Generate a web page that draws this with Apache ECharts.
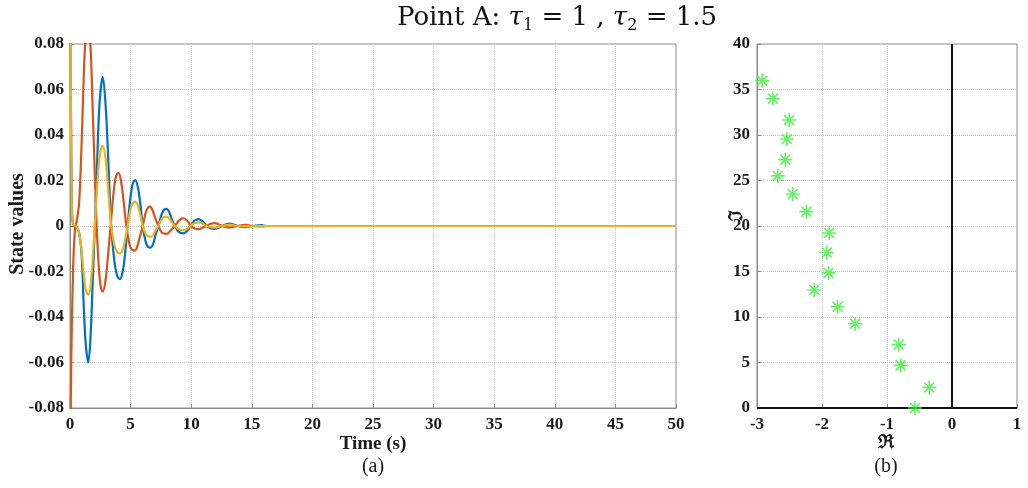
<!DOCTYPE html>
<html>
<head>
<meta charset="utf-8">
<script src="https://cdn.jsdelivr.net/npm/echarts@6/dist/echarts.min.js"></script>
<style>
  html, body { margin: 0; padding: 0; background: #ffffff; }
  #chart { width: 1028px; height: 488px; }
</style>
</head>
<body>
<div id="chart"></div>
<script>
// Time responses of the three states, [time (s), value]
const stateBlue = [
  [0, 0.10], [0.08, 0.05], [0.15, 0.01], [0.25, 0.001], [0.5, 0], [0.75, -0.003],
  [0.95, -0.012], [1.15, -0.037], [1.3, -0.052], [1.51, -0.060], [1.7, -0.048],
  [1.87, -0.025], [2.05, 0], [2.25, 0.03], [2.45, 0.055], [2.7, 0.0656], [2.95, 0.052],
  [3.15, 0.03], [3.4, 0], [3.65, -0.015], [3.9, -0.022], [4.12, -0.0234], [4.35, -0.02],
  [4.55, -0.012], [4.75, 0], [5.0, 0.013], [5.2, 0.019], [5.39, 0.0202], [5.6, 0.017],
  [5.8, 0.01], [6.0, 0], [6.25, -0.007], [6.45, -0.0092], [6.65, -0.0095], [6.85, -0.008],
  [7.05, -0.004], [7.3, 0], [7.55, 0.005], [7.8, 0.0073], [7.98, 0.0075], [8.2, 0.006],
  [8.4, 0.003], [8.65, 0], [8.95, -0.0025], [9.35, -0.0032], [9.7, -0.002], [9.95, 0],
  [10.25, 0.0022], [10.6, 0.003], [10.95, 0.002], [11.25, 0], [11.6, -0.001],
  [11.9, -0.0013], [12.25, -0.0008], [12.55, 0], [12.9, 0.0008], [13.2, 0.0011],
  [13.5, 0.0006], [13.85, 0], [14.2, -0.0004], [14.5, -0.0005], [14.8, -0.0002],
  [15.15, 0], [15.5, 0.0003], [15.8, 0.0004], [16.1, 0.0001], [16.5, 0], [20, 0], [50, 0]
];
const stateOrange = [
  [0, -0.12], [0.1, -0.06], [0.25, -0.02], [0.4, -0.002], [0.55, 0.002], [0.75, 0.01],
  [0.95, 0.035], [1.1, 0.06], [1.25, 0.08], [1.49, 0.09], [1.7, 0.078], [1.85, 0.055],
  [2.0, 0.03], [2.2, 0], [2.4, -0.02], [2.55, -0.027], [2.7, -0.0289], [2.9, -0.025],
  [3.1, -0.015], [3.35, 0], [3.6, 0.015], [3.8, 0.022], [4.0, 0.0234], [4.2, 0.02],
  [4.4, 0.012], [4.65, 0], [4.95, -0.009], [5.15, -0.0105], [5.36, -0.0108], [5.55, -0.009],
  [5.75, -0.005], [6.0, 0], [6.25, 0.006], [6.45, 0.0082], [6.6, 0.0085], [6.8, 0.007],
  [7.0, 0.004], [7.3, 0], [7.6, -0.003], [7.98, -0.0035], [8.3, -0.002], [8.65, 0],
  [9.0, 0.0025], [9.35, 0.0034], [9.7, 0.0022], [9.95, 0], [10.3, -0.0011], [10.6, -0.0014],
  [10.95, -0.0008], [11.25, 0], [11.6, 0.001], [11.95, 0.0013], [12.25, 0.0008], [12.55, 0],
  [12.9, -0.0005], [13.25, -0.0006], [13.55, -0.0003], [13.85, 0], [14.25, 0.0004],
  [14.55, 0.0005], [14.85, 0.0002], [15.2, 0], [15.5, -0.0002], [15.9, -0.0002], [16.3, 0],
  [20, 0], [50, 0]
];
const stateYellow = [
  [0, 0.12], [0.08, 0.05], [0.15, 0.01], [0.25, 0.001], [0.5, 0], [0.7, -0.002],
  [0.9, -0.008], [1.1, -0.019], [1.3, -0.028], [1.51, -0.0303], [1.7, -0.026], [1.9, -0.012],
  [2.05, 0], [2.25, 0.018], [2.45, 0.031], [2.7, 0.0352], [2.95, 0.029], [3.15, 0.016],
  [3.4, 0], [3.65, -0.008], [3.9, -0.0115], [4.12, -0.012], [4.35, -0.0105], [4.55, -0.006],
  [4.75, 0], [5.0, 0.0075], [5.2, 0.0102], [5.39, 0.0107], [5.6, 0.009], [5.8, 0.005],
  [6.0, 0], [6.25, -0.0035], [6.45, -0.0045], [6.65, -0.0047], [6.85, -0.004], [7.05, -0.002],
  [7.3, 0], [7.55, 0.0028], [7.8, 0.004], [7.98, 0.0041], [8.2, 0.0033], [8.4, 0.0017],
  [8.65, 0], [8.95, -0.0013], [9.35, -0.0018], [9.7, -0.0011], [9.95, 0], [10.25, 0.0012],
  [10.6, 0.0016], [10.95, 0.001], [11.25, 0], [11.6, -0.0005], [11.9, -0.0007],
  [12.25, -0.0004], [12.55, 0], [12.9, 0.0004], [13.2, 0.0006], [13.5, 0.0003], [13.85, 0],
  [14.5, -0.0002], [15.15, 0], [20, 0], [50, 0]
];

// Characteristic roots: real and imaginary parts
const rootsRe = [-2.92, -2.755, -2.505, -2.54, -2.566, -2.68, -2.45, -2.24, -1.89, -1.926,
  -1.90, -2.12, -1.76, -1.49, -0.82, -0.79, -0.35, -0.57];
const rootsIm = [35.97, 34.0, 31.65, 29.56, 27.29, 25.5, 23.52, 21.57, 19.23, 17.07,
  14.84, 12.97, 11.13, 9.26, 6.96, 4.68, 2.26, 0.0];

const SERIF = "'Liberation Serif', 'Times New Roman', serif";
const MATH_SERIF = "'DejaVu Serif', 'Liberation Serif', serif";
const FRAME = '#8a8a8a';
const GRID_LINE = '#c4c4c4';
const LABEL = '#1a1a1a';

// eight-armed asterisk marker
const ASTERISK = 'path://M8.8 0L11.2 0L11.2 20L8.8 20Z M0 8.8L20 8.8L20 11.2L0 11.2Z ' +
  'M3.78 2.08L17.92 16.22L16.22 17.92L2.08 3.78Z M16.22 2.08L17.92 3.78L3.78 17.92L2.08 16.22Z';

const rootPoints = rootsRe.map((re, i) => [re, rootsIm[i]]);

function tickFmt(v) {
  return Math.abs(v) < 1e-9 ? '0' : v.toFixed(2);
}

const axisCommon = {
  axisLine: { show: true, onZero: false, lineStyle: { color: FRAME, width: 1 } },
  axisTick: { show: true, inside: true, length: 4, lineStyle: { color: FRAME } },
  splitLine: { show: true, lineStyle: { color: GRID_LINE, type: 'dotted', width: 1 } },
  axisLabel: { color: LABEL, fontFamily: SERIF, fontWeight: 'bold', fontSize: 17 }
};

const chart = echarts.init(document.getElementById('chart'), null, { renderer: 'canvas' });

chart.setOption({
  animation: false,
  backgroundColor: '#ffffff',
  grid: [
    { left: 70, top: 44, width: 606, height: 364, show: true, borderColor: FRAME, borderWidth: 1, backgroundColor: 'transparent' },
    { left: 757, top: 44, width: 260, height: 364, show: true, borderColor: FRAME, borderWidth: 1, backgroundColor: 'transparent' }
  ],
  xAxis: [
    Object.assign({}, axisCommon, {
      gridIndex: 0, type: 'value', min: 0, max: 50, interval: 5,
      axisLabel: Object.assign({}, axisCommon.axisLabel, { margin: 8 })
    }),
    Object.assign({}, axisCommon, {
      gridIndex: 1, type: 'value', min: -3, max: 1, interval: 1,
      axisLabel: Object.assign({}, axisCommon.axisLabel, { margin: 8 })
    })
  ],
  yAxis: [
    Object.assign({}, axisCommon, {
      gridIndex: 0, type: 'value', min: -0.08, max: 0.08, interval: 0.02,
      axisLabel: Object.assign({}, axisCommon.axisLabel, { margin: 6, formatter: tickFmt })
    }),
    Object.assign({}, axisCommon, {
      gridIndex: 1, type: 'value', min: 0, max: 40, interval: 5,
      axisLabel: Object.assign({}, axisCommon.axisLabel, { margin: 7 })
    })
  ],
  series: [
    {
      name: 'x1', type: 'line', xAxisIndex: 0, yAxisIndex: 0, data: stateBlue,
      showSymbol: false, smooth: 0.35, clip: true,
      lineStyle: { color: '#0072BD', width: 2.2 }, itemStyle: { color: '#0072BD' }
    },
    {
      name: 'x2', type: 'line', xAxisIndex: 0, yAxisIndex: 0, data: stateOrange,
      showSymbol: false, smooth: 0.35, clip: true,
      lineStyle: { color: '#D95319', width: 2.2 }, itemStyle: { color: '#D95319' }
    },
    {
      name: 'x3', type: 'line', xAxisIndex: 0, yAxisIndex: 0, data: stateYellow,
      showSymbol: false, smooth: 0.35, clip: true,
      lineStyle: { color: '#EDB120', width: 2.2 }, itemStyle: { color: '#EDB120' }
    },
    {
      name: 'roots', type: 'scatter', xAxisIndex: 1, yAxisIndex: 1, data: rootPoints,
      symbol: ASTERISK, symbolSize: 14, z: 5,
      itemStyle: { color: '#3ff03f' },
      markLine: {
        silent: true, symbol: 'none', label: { show: false },
        lineStyle: { color: '#111111', width: 2, type: 'solid' },
        data: [{ xAxis: 0 }, { yAxis: 0 }]
      }
    }
  ],
  graphic: [
    {
      type: 'text', x: 557, y: 18,
      style: {
        text: '{n|Point A: }{i|τ}{s|1}{n| = 1 , }{i|τ}{s|2}{n| = 1.5}',
        align: 'center', verticalAlign: 'middle', fill: '#111',
        rich: {
          n: { fontFamily: MATH_SERIF, fontSize: 26, lineHeight: 32, fill: '#111' },
          i: { fontFamily: MATH_SERIF, fontSize: 26, fontStyle: 'italic', lineHeight: 32, fill: '#111' },
          s: { fontFamily: MATH_SERIF, fontSize: 16, lineHeight: 28, verticalAlign: 'bottom', fill: '#111' }
        }
      }
    },
    {
      type: 'text', x: 18, y: 224, rotation: Math.PI / 2,
      style: { text: 'State values', fontFamily: SERIF, fontWeight: 'bold', fontSize: 20, fill: LABEL, align: 'center', verticalAlign: 'middle' }
    },
    {
      type: 'text', x: 373, y: 444,
      style: { text: 'Time (s)', fontFamily: SERIF, fontWeight: 'bold', fontSize: 19, fill: LABEL, align: 'center', verticalAlign: 'middle' }
    },
    {
      type: 'text', x: 373, y: 467,
      style: { text: '(a)', fontFamily: SERIF, fontSize: 20, fill: LABEL, align: 'center', verticalAlign: 'middle' }
    },
    {
      type: 'text', x: 737, y: 215, rotation: Math.PI / 2,
      style: { text: 'ℑ', fontFamily: SERIF, fontWeight: 'bold', fontSize: 19, fill: LABEL, align: 'center', verticalAlign: 'middle' }
    },
    {
      type: 'text', x: 886, y: 443,
      style: { text: 'ℜ', fontFamily: SERIF, fontWeight: 'bold', fontSize: 19, fill: LABEL, align: 'center', verticalAlign: 'middle' }
    },
    {
      type: 'text', x: 886, y: 467,
      style: { text: '(b)', fontFamily: SERIF, fontSize: 20, fill: LABEL, align: 'center', verticalAlign: 'middle' }
    }
  ]
});
</script>
</body>
</html>
